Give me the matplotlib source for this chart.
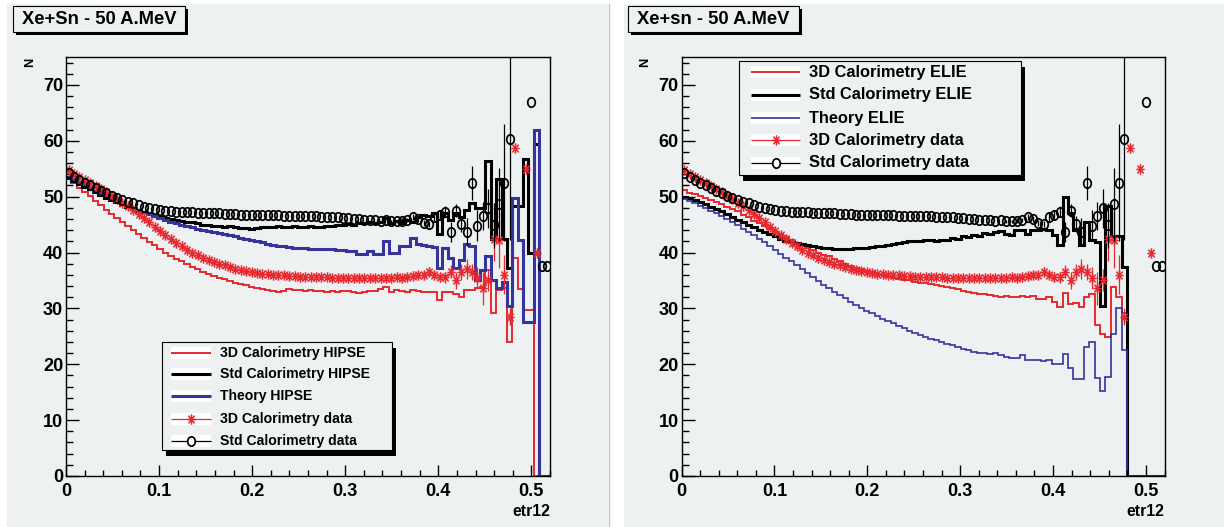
import numpy as np
import matplotlib
matplotlib.use("Agg")
from matplotlib import pyplot as plt
from matplotlib import font_manager as fm
from matplotlib.path import Path
from matplotlib.patches import Rectangle
from matplotlib.ticker import MultipleLocator, FuncFormatter

# narrow bold font if present, else plain Liberation Sans scaled down to similar widths
_names = {f.name for f in fm.fontManager.ttflist}
if 'Liberation Sans Narrow' in _names:
    FAM, K = 'Liberation Sans Narrow', 1.0
else:
    FAM, K = 'Liberation Sans', 0.84
plt.rcParams['font.family'] = [FAM, 'DejaVu Sans']
plt.rcParams['font.weight'] = 'bold'

W, H = 1224, 527
PAD = '#eef1f2'
RED = '#e8282e'
BLUE = '#34349c'
nan = np.nan

# 90 bins over etr12 = 0 .. 0.52
edges = np.linspace(0, 0.52, 91)
centers = 0.5 * (edges[:-1] + edges[1:])

# data (same in both panels)
std_data = [54.2, 53.6, 53.0, 52.5, 52.0, 51.5, 51.1, 50.6, 50.2, 49.8,
            49.4, 49.1, 48.8, 48.5, 48.2, 48.0, 47.8, 47.6, 47.5, 47.4,
            47.3, 47.3, 47.2, 47.2, 47.1, 47.1, 47.0, 47.0, 47.0, 46.9,
            46.9, 46.9, 46.8, 46.8, 46.8, 46.8, 46.7, 46.7, 46.7, 46.7,
            46.6, 46.6, 46.6, 46.6, 46.5, 46.5, 46.5, 46.4, 46.4, 46.3,
            46.3, 46.2, 46.1, 46.0, 46.0, 45.9, 45.8, 45.8, 45.7, 45.8,
            45.6, 45.6, 45.7, 45.8, 46.4, 46.0, 45.3, 45.1, 46.4, 46.8,
            47.3, 43.6, 47.5, 45.1, 43.6, 52.4, 44.8, 46.6, 47.9, 44.9,
            48.6, 52.5, 60.3, nan, nan, nan, 66.9, nan, 37.6, 37.6]
std_err = [0.0] * 60 + [0.3, 0.3, 0.4, 0.4, 0.5, 0.5, 0.6, 0.6, 0.7, 0.8,
                        1.0, 1.8, 1.2, 1.5, 2.5, 3.0, 2.8, 2.5, 3.5, 4.0,
                        6.5, 10.5, 18.0, 0, 0, 0, 0, 0, 0, 0]
d3_data = [54.7, 54.1, 53.5, 52.9, 52.4, 51.9, 51.3, 50.8, 50.2, 49.6,
           48.9, 48.3, 47.6, 46.9, 46.2, 45.4, 44.6, 43.9, 43.1, 42.4,
           41.7, 41.1, 40.5, 40.0, 39.5, 39.0, 38.6, 38.3, 38.0, 37.7,
           37.4, 37.1, 36.9, 36.7, 36.5, 36.4, 36.2, 36.1, 36.0, 35.9,
           35.9, 35.8, 35.8, 35.7, 35.7, 35.7, 35.6, 35.6, 35.6, 35.5,
           35.5, 35.5, 35.4, 35.5, 35.4, 35.5, 35.4, 35.5, 35.4, 35.5,
           35.4, 35.6, 35.5, 35.6, 35.8, 35.9, 36.0, 36.6, 36.0, 35.7,
           35.6, 36.6, 35.0, 36.5, 37.0, 36.5, 35.4, 33.6, 35.1, 42.4,
           42.2, 36.0, 28.5, 58.8, nan, 55.0, nan, 39.9, nan, nan]
d3_err = [0.0] * 60 + [0.5, 0.5, 0.6, 0.6, 0.6, 0.7, 0.7, 0.8, 0.8, 0.9,
                       1.0, 1.2, 1.5, 1.5, 1.8, 1.5, 2.0, 3.0, 2.0, 4.0,
                       5.0, 3.5, 1.5, 0, 0, 0, 0, 0, 0, 0]

# HIPSE simulation
hipse_3d = [53.3, 52.4, 51.6, 50.8, 50.1, 49.3, 48.5, 47.7, 46.9, 46.1,
            45.4, 44.7, 44.0, 43.3, 42.6, 41.9, 41.3, 40.6, 40.0, 39.4,
            38.9, 38.4, 37.9, 37.4, 37.0, 36.6, 36.2, 35.8, 35.5, 35.2,
            34.9, 34.6, 34.3, 34.1, 33.9, 33.7, 33.5, 33.3, 33.2, 33.0,
            33.2, 33.4, 33.3, 33.3, 33.2, 33.3, 33.2, 33.1, 33.0, 33.1,
            33.0, 33.1, 33.1, 33.0, 32.8, 33.0, 33.2, 33.1, 33.4, 33.8,
            33.0, 33.3, 33.2, 33.0, 33.3, 33.2, 33.0, 33.0, 33.0, 31.5,
            33.0, 33.0, 32.6, 32.1, 33.3, 33.3, 33.6, 33.9, 36.9, 29.1,
            33.3, 33.6, 24.0, 39.0, 33.5, 29.8, 29.8, 0, 0, 0]
hipse_std = [53.3, 52.8, 52.3, 51.8, 51.3, 50.8, 50.3, 49.8, 49.4, 49.0,
             48.6, 48.2, 47.8, 47.5, 47.2, 46.9, 46.6, 46.4, 46.2, 46.0,
             45.8, 45.6, 45.5, 45.4, 45.2, 45.0, 44.9, 44.8, 44.7, 44.6,
             44.7, 44.5, 44.4, 44.4, 44.3, 44.4, 44.5, 44.6, 44.6, 44.7,
             44.6, 44.6, 44.7, 44.6, 44.6, 44.7, 44.6, 44.5, 44.8, 44.8,
             44.9, 45.0, 45.1, 45.0, 45.3, 45.2, 45.4, 45.3, 45.5, 46.2,
             45.3, 45.6, 45.3, 45.8, 45.5, 46.4, 46.8, 46.6, 47.0, 43.4,
             47.1, 45.8, 47.1, 46.4, 47.6, 48.8, 47.9, 47.9, 56.4, 42.5,
             53.1, 42.5, 37.2, 48.3, 48.3, 56.7, 40.0, 59.4, 0, 0]
hipse_theory = [53.6, 53.1, 52.6, 52.2, 51.6, 51.0, 50.6, 50.1, 49.6, 49.2,
                48.7, 48.3, 47.9, 47.6, 47.3, 46.9, 46.5, 46.1, 45.8, 45.5,
                45.3, 45.0, 44.8, 44.5, 44.3, 44.1, 43.9, 43.7, 43.5, 43.3,
                43.1, 42.9, 42.6, 42.4, 42.2, 42.0, 41.8, 41.5, 41.3, 41.2,
                41.1, 41.0, 40.9, 40.9, 40.8, 40.7, 40.6, 40.7, 40.6, 40.6,
                40.5, 40.4, 40.3, 40.3, 39.7, 39.8, 40.2, 39.7, 39.8, 42.0,
                39.9, 39.9, 41.1, 41.1, 42.6, 41.6, 41.4, 41.2, 41.0, 37.2,
                40.8, 39.0, 37.2, 38.7, 41.5, 41.1, 35.1, 36.9, 39.3, 35.1,
                33.6, 34.8, 30.4, 49.7, 42.2, 27.6, 27.6, 61.9, 0, 0]

# ELIE simulation
elie_3d = [51.2, 50.6, 50.5, 50.1, 49.8, 49.4, 49.0, 48.6, 48.2, 47.8,
           47.4, 46.8, 46.3, 45.7, 45.2, 44.7, 44.2, 43.7, 43.3, 42.8,
           42.2, 41.7, 41.2, 40.8, 40.5, 40.0, 39.6, 39.3, 38.9, 38.4,
           37.9, 37.6, 37.3, 37.0, 36.7, 36.4, 36.1, 35.9, 35.7, 35.5,
           35.3, 35.1, 35.0, 34.8, 34.6, 34.5, 34.3, 34.1, 34.0, 33.9,
           33.6, 33.4, 33.2, 33.0, 32.8, 32.6, 32.5, 32.4, 32.3, 32.1,
           32.2, 32.1, 32.0, 32.2, 32.0, 32.2, 31.7, 31.7, 32.0, 31.2,
           30.2, 32.8, 30.7, 31.0, 30.2, 32.0, 32.6, 27.0, 25.5, 24.9,
           33.8, 32.1, 29.2, 0, 0, 0, 0, 0, 0, 0]
elie_std = [50.0, 49.7, 49.4, 49.0, 48.6, 48.2, 47.8, 47.4, 46.9, 46.4,
            45.9, 45.4, 45.0, 44.5, 44.1, 43.7, 43.3, 42.9, 42.5, 42.1,
            41.9, 41.7, 41.5, 41.3, 41.1, 41.0, 40.9, 40.8, 40.7, 40.7,
            40.7, 40.7, 40.8, 40.8, 40.9, 41.0, 41.1, 41.2, 41.3, 41.5,
            41.7, 41.9, 42.0, 42.1, 42.1, 42.2, 42.2, 42.1, 42.3, 42.3,
            42.6, 42.5, 42.9, 42.8, 43.2, 43.0, 43.5, 43.3, 43.6, 43.8,
            43.4, 43.1, 44.0, 44.0, 43.4, 44.0, 44.0, 44.2, 44.0, 43.1,
            41.3, 50.0, 47.0, 44.0, 41.4, 45.4, 42.2, 41.8, 30.5, 48.3,
            42.9, 42.9, 37.5, 0, 0, 0, 0, 0, 0, 0]
elie_theory = [49.6, 49.2, 48.8, 48.4, 48.0, 47.5, 47.0, 46.5, 46.0, 45.4,
               44.9, 44.3, 43.7, 43.1, 42.5, 41.9, 41.2, 40.5, 39.8, 39.1,
               38.4, 37.7, 37.0, 36.3, 35.6, 34.9, 34.2, 33.6, 33.0, 32.4,
               31.8, 31.2, 30.6, 30.1, 29.6, 29.1, 28.6, 28.1, 27.7, 27.3,
               26.9, 26.5, 26.0, 25.6, 25.2, 24.9, 24.6, 24.3, 24.0, 23.7,
               23.4, 23.1, 22.7, 22.5, 22.2, 22.1, 22.0, 21.8, 22.0, 21.6,
               21.3, 21.1, 21.1, 21.7, 20.8, 20.7, 20.8, 20.6, 20.7, 20.0,
               20.0, 21.8, 19.4, 17.4, 17.3, 23.1, 23.9, 17.5, 15.3, 17.7,
               25.5, 30.0, 22.6, 0, 0, 0, 0, 0, 0, 0]

circ = Path.unit_circle()
oval = Path(circ.vertices * [0.8, 1.0], circ.codes)
star = Path([(0, -1), (0, 1), (-0.8, 0), (0.8, 0),
             (-0.6, -0.75), (0.6, 0.75), (-0.6, 0.75), (0.6, -0.75)],
            [Path.MOVETO, Path.LINETO] * 4)

fig = plt.figure(figsize=(W / 100, H / 100), dpi=100)

bg = fig.add_axes([0, 0, 1, 1], zorder=-5)
bg.set_xlim(0, W)
bg.set_ylim(H, 0)
bg.axis('off')
bg.add_patch(Rectangle((7, 4), 601, 523, fc=PAD, ec='none'))
bg.add_patch(Rectangle((624, 4), 600, 523, fc=PAD, ec='none'))
bg.plot([608.5, 608.5], [4, 527], color='#c4c6c6', lw=1)

ov = fig.add_axes([0, 0, 1, 1], zorder=10)
ov.set_xlim(0, W)
ov.set_ylim(H, 0)
ov.axis('off')
ov.patch.set_alpha(0)


def panel(x0, x1, hists, title, tx0, tx1):
    ax = fig.add_axes([x0 / W, 1 - 476 / H, (x1 - x0) / W, (476 - 57) / H])
    ax.set_facecolor(PAD)
    for vals, col, lw in hists:
        ax.stairs(vals, edges, baseline=None, color=col, lw=lw)
    ax.errorbar(centers, d3_data, yerr=d3_err, fmt='none', ecolor=RED, elinewidth=0.9, capsize=0)
    ax.plot(centers, d3_data, ls='none', marker=star, ms=7.5, mec=RED, mew=1.1)
    ax.errorbar(centers, std_data, yerr=std_err, fmt='none', ecolor='black', elinewidth=0.9, capsize=0)
    ax.plot(centers, std_data, ls='none', marker=oval, ms=6.8, mec='black', mfc='none', mew=1.25)
    ax.set_xlim(0, 0.52)
    ax.set_ylim(0, 75)
    ax.xaxis.set_major_locator(MultipleLocator(0.1))
    ax.xaxis.set_minor_locator(MultipleLocator(0.02))
    ax.yaxis.set_major_locator(MultipleLocator(10))
    ax.yaxis.set_minor_locator(MultipleLocator(2))
    ax.xaxis.set_major_formatter(FuncFormatter(lambda v, p: '0' if abs(v) < 1e-9 else '%g' % v))
    ax.tick_params(which='both', direction='in', top=False, right=False, width=1, labelsize=15.5 * K)
    ax.tick_params(axis='x', which='major', length=8, pad=5)
    ax.tick_params(axis='x', which='minor', length=4.3)
    ax.tick_params(axis='y', which='major', length=9.5, pad=2)
    ax.tick_params(axis='y', which='minor', length=5)
    for s in ax.spines.values():
        s.set_linewidth(1)
    # title box with shadow
    ov.add_patch(Rectangle((tx0 + 3, 9), tx1 - tx0, 26, fc='black', ec='none'))
    ov.add_patch(Rectangle((tx0, 6), tx1 - tx0, 26, fc=PAD, ec='black', lw=0.8))
    ov.text((tx0 + tx1) / 2, 19.5, title, fontsize=15.8 * K, ha='center', va='center')
    ov.text(x0 - 36, 62, 'N', fontsize=11 * K, rotation=90, ha='center', va='center')
    ov.text(x1, 511, 'etr12', fontsize=13.5 * K, ha='right', va='center')
    return ax


def legend(bx0, by0, bx1, by1, rows, sx0, sx1, tx, fs):
    ov.add_patch(Rectangle((bx0 + 4, by0 + 6), bx1 - bx0, by1 - by0, fc='black', ec='none'))
    ov.add_patch(Rectangle((bx0, by0), bx1 - bx0, by1 - by0, fc=PAD, ec='black', lw=0.8))
    for y, label, kind, col, lw in rows:
        ov.add_patch(Rectangle((sx0, y - 6), sx1 - sx0, 12, fc='white', ec='none'))
        ov.plot([sx0, sx1], [y, y], color=col, lw=lw, solid_capstyle='butt')
        if kind == 'star':
            ov.plot([(sx0 + sx1) / 2], [y], marker=star, ms=7.5, mec=col, mew=1.1)
        elif kind == 'circle':
            ov.plot([(sx0 + sx1) / 2], [y], marker=oval, ms=6.8, mec=col, mfc='white', mew=1.25)
        ov.text(tx, y, label, fontsize=fs, ha='left', va='center')


panel(66, 550, [(hipse_3d, RED, 1.4), (hipse_std, 'black', 2.2), (hipse_theory, BLUE, 2.2)],
      'Xe+Sn - 50 A.MeV', 12.5, 185)
legend(162, 342, 392, 450,
       [(352.5, '3D Calorimetry HIPSE', 'line', RED, 1.4),
        (374, 'Std Calorimetry HIPSE', 'line', 'black', 2.2),
        (396, 'Theory HIPSE', 'line', BLUE, 2.2),
        (418.5, '3D Calorimetry data', 'star', RED, 0.9),
        (441, 'Std Calorimetry data', 'circle', 'black', 0.9)],
       171, 211, 220, 12 * K)

panel(681.5, 1164.5, [(elie_3d, RED, 1.4), (elie_std, 'black', 2.2), (elie_theory, BLUE, 1.2)],
      'Xe+sn - 50 A.MeV', 628, 799)
legend(739, 61, 1021, 175,
       [(72, '3D Calorimetry ELIE', 'line', RED, 1.4),
        (95, 'Std Calorimetry ELIE', 'line', 'black', 2.2),
        (118, 'Theory ELIE', 'line', BLUE, 1.2),
        (140, '3D Calorimetry data', 'star', RED, 0.9),
        (163, 'Std Calorimetry data', 'circle', 'black', 0.9)],
       751, 800, 809, 14 * K)

fig.savefig('out.png', dpi=100)
